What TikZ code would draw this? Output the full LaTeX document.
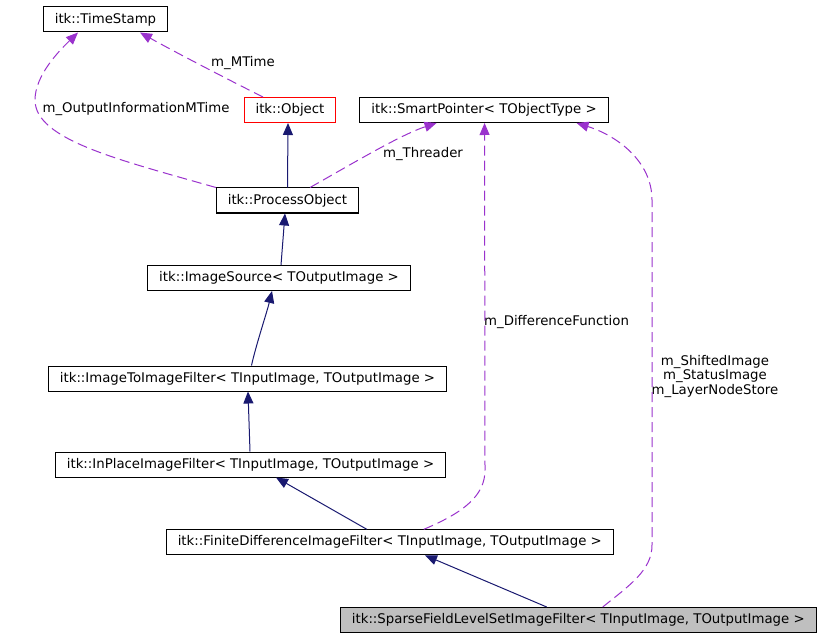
\documentclass[tikz,border=0pt]{standalone}
\usepackage{fontspec}
\setmainfont{DejaVu Sans}
\usepackage{tikz}
\usetikzlibrary{arrows.meta, positioning}

\definecolor{edgeblue}{RGB}{25,25,112}
\definecolor{edgepurple}{RGB}{154,50,205}
\definecolor{focusgray}{RGB}{191,191,191}

\begin{document}
\begin{tikzpicture}[
  x=1bp, y=-1bp,
  font=\fontsize{13.3bp}{16bp}\selectfont,
  box/.style={rectangle, draw, line width=1bp,
              minimum height=25bp, inner xsep=11.5bp, inner ysep=3bp},
  focus/.style={box, fill=focusgray},
  inherit/.style={-{Triangle[length=12bp, width=10bp]}, edgeblue, line width=1bp},
  usage/.style={-{Triangle[length=12bp, width=10bp]}, edgepurple, line width=1bp,
                dash pattern=on 10bp off 5bp},
  lbl/.style={inner sep=0pt}
]
  \useasboundingbox (0,0) rectangle (823,637);

  % classes
  \node[box] (ts) at (105.5,19.5) {itk::TimeStamp};
  \node[box, draw=red] (obj) at (290,110) {itk::Object};
  \node[box, right=23bp of obj] (sp) {itk::SmartPointer< TObjectType >};
  \node[box] (po) at (287.5,200.5) {itk::ProcessObject};
  \node[box] (isrc) at (279,278) {itk::ImageSource< TOutputImage >};
  \node[box] (i2i) at (247.5,378.5) {itk::ImageToImageFilter< TInputImage, TOutputImage >};
  \node[box] (ipf) at (250.5,464.5) {itk::InPlaceImageFilter< TInputImage, TOutputImage >};
  \node[box] (fdf) at (389.8,542.3) {itk::FiniteDifferenceImageFilter< TInputImage, TOutputImage >};
  \node[focus] (sfls) at (578.3,620) {itk::SparseFieldLevelSetImageFilter< TInputImage, TOutputImage >};

  % member labels
  \node[lbl] (lmtime) at (243,63) {m\_MTime};
  \node[lbl] (loutinfo) at (136,109) {m\_OutputInformationMTime};
  \node[lbl] (lthreader) at (423,154) {m\_Threader};
  \node[lbl, anchor=west] (ldiff) at (484,322) {m\_DifferenceFunction};
  \node[lbl, align=center, font=\fontsize{13.3bp}{14.5bp}\selectfont] (limages) at (715,376.5)
    {m\_ShiftedImage\\m\_StatusImage\\m\_LayerNodeStore};

  % inheritance
  \draw[inherit] (po.north) -- ([xshift=-2bp]obj.south);
  \draw[inherit] ([xshift=2bp]isrc.north) -- ([xshift=-2.5bp]po.south);
  \draw[inherit] ([xshift=4bp]i2i.north) .. controls (256,345) and (267,312) .. ([xshift=-7bp]isrc.south);
  \draw[inherit] ([xshift=-0.5bp]ipf.north) -- ([xshift=0.5bp]i2i.south);
  \draw[inherit] ([xshift=-23bp]fdf.north) -- ([xshift=25.5bp]ipf.south);
  \draw[inherit] ([xshift=-31.6bp]sfls.north) -- ([xshift=35.2bp]fdf.south);

  % usage
  \draw[usage] ([xshift=-27bp]obj.north) .. controls (225,78) and (175,52) .. ([xshift=34.5bp]ts.south);
  \draw[usage] (po.north west) .. controls (120,160) and (35,140) .. (35,100)
    .. controls (35,75) and (60,50) .. ([xshift=-27.5bp]ts.south);
  \draw[usage] ([xshift=22.5bp]po.north) .. controls (350,165) and (400,135) .. ([xshift=-47.5bp]sp.south);
  \draw[usage] ([xshift=34bp]fdf.north) .. controls (465,512) and (485,495) .. (485,470)
    -- ([xshift=0.5bp]sp.south);
  \draw[usage] ([xshift=24.4bp]sfls.north) .. controls (630,585) and (652,570) .. (652,545)
    -- (652,200) .. controls (652,160) and (615,135) .. ([xshift=92.5bp]sp.south);
\end{tikzpicture}
\end{document}
